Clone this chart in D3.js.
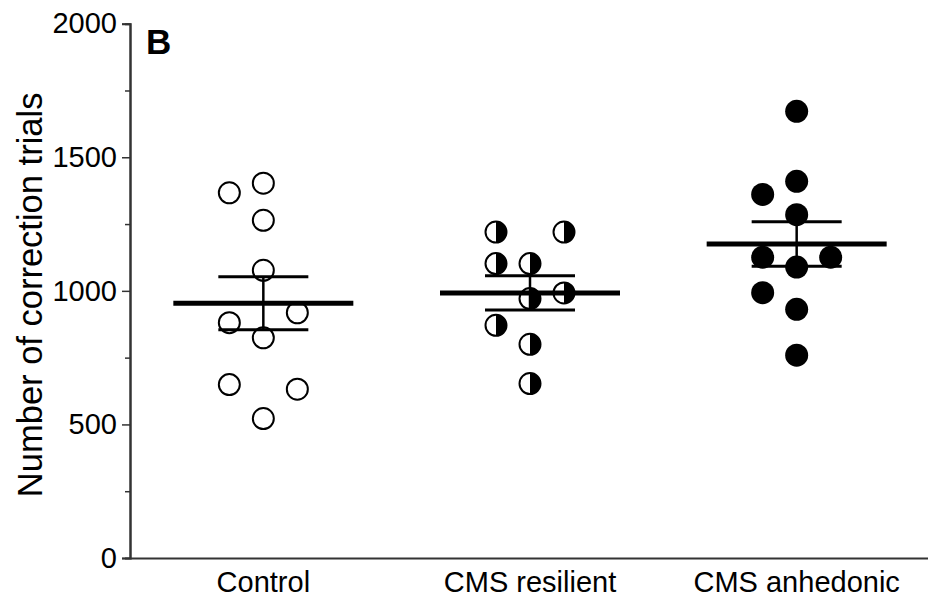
<!DOCTYPE html>
<html>
<head>
<meta charset="utf-8">
<script src="https://cdn.jsdelivr.net/npm/d3@7"></script>
<style>
  html, body { margin: 0; padding: 0; background: #fff; }
  svg { display: block; font-family: "Liberation Sans", Arial, sans-serif; }
</style>
</head>
<body>
<svg id="chart" width="928" height="599"></svg>
<script>
// ---- data ----
const categories = ["Control", "CMS resilient", "CMS anhedonic"];
const controlValues   = [1403, 1367, 1264, 1077, 918, 881, 824, 649, 632, 522];
const controlSlots    = [0, -1, 0, 0, 1, -1, 0, -1, 1, 0];
const resilientValues = [1220, 1220, 1102, 1102, 992, 971, 871, 800, 653];
const resilientSlots  = [-1, 1, -1, 0, 1, 0, -1, 0, 0];
const anhedonicValues = [1672, 1410, 1361, 1285, 1126, 1126, 1089, 993, 931, 759];
const anhedonicSlots  = [0, 0, -1, 0, -1, 1, 0, -1, 0, 0];
const markerTypes = ["open", "half", "filled"];
const yMajorTicks = [0, 500, 1000, 1500, 2000];
const yMinorTicks = [250, 750, 1250, 1750];
const yTitle = "Number of correction trials";
const panelLabel = "B";

const groups = [
  { name: categories[0], values: controlValues,   slots: controlSlots,   type: markerTypes[0] },
  { name: categories[1], values: resilientValues, slots: resilientSlots, type: markerTypes[1] },
  { name: categories[2], values: anhedonicValues, slots: anhedonicSlots, type: markerTypes[2] }
];

// ---- layout ----
const svg = d3.select("#chart");
const mLeft = 130, mRight = 930, mTop = 23.7, mBottom = 558;
const axisColor = "#333";

const x = d3.scaleBand().domain(categories).range([mLeft, mRight]);
const y = d3.scaleLinear().domain([0, 2000]).range([mBottom, mTop]);
const slotStep = 34;
const r = 10.5;

// axes
const yAxis = svg.append("g").attr("transform", `translate(${mLeft},0)`)
  .call(d3.axisLeft(y).tickValues(yMajorTicks).tickSize(8).tickPadding(5).tickFormat(d3.format("d")));
const yAxisMinor = svg.append("g").attr("transform", `translate(${mLeft},0)`)
  .call(d3.axisLeft(y).tickValues(yMinorTicks).tickSize(5).tickFormat(""));
[yAxis, yAxisMinor].forEach(g => {
  g.selectAll("path.domain").attr("stroke", axisColor).attr("stroke-width", 2);
  g.selectAll(".tick line").attr("stroke", axisColor).attr("stroke-width", 1.5);
});
yAxis.selectAll(".tick text").attr("font-size", 29).attr("fill", "#000")
  .attr("font-family", "Liberation Sans, Arial, sans-serif");

const xAxis = svg.append("g").attr("transform", `translate(0,${mBottom})`)
  .call(d3.axisBottom(x).tickSize(0).tickPadding(13));
xAxis.selectAll("path.domain").attr("stroke", axisColor).attr("stroke-width", 2);
xAxis.selectAll(".tick text").attr("font-size", 29).attr("fill", "#000")
  .attr("dy", "0.71em")
  .attr("font-family", "Liberation Sans, Arial, sans-serif");

// axis title
svg.append("text")
  .attr("transform", `translate(42,${(mTop + mBottom) / 2 + 4}) rotate(-90)`)
  .attr("text-anchor", "middle")
  .attr("font-size", 34.5)
  .attr("fill", "#000")
  .text(yTitle);

// panel label
svg.append("text")
  .attr("x", 146).attr("y", 54)
  .attr("font-size", 35).attr("font-weight", "bold")
  .attr("fill", "#000")
  .text(panelLabel);

// points
const halfArc = d3.arc().innerRadius(0).outerRadius(r).startAngle(0).endAngle(Math.PI);
groups.forEach(g => {
  const cx = x(g.name) + x.bandwidth() / 2;
  g.values.forEach((v, i) => {
    const px = cx + g.slots[i] * slotStep;
    const py = y(v);
    const pt = svg.append("g").attr("transform", `translate(${px},${py})`);
    if (g.type === "filled") {
      pt.append("circle").attr("r", r + 1).attr("fill", "#000");
    } else {
      pt.append("circle").attr("r", r).attr("fill", "#fff")
        .attr("stroke", "#000").attr("stroke-width", 2);
      if (g.type === "half") {
        pt.append("path").attr("d", halfArc()).attr("fill", "#000");
      }
    }
  });
});

// mean and SEM
groups.forEach(g => {
  const cx = x(g.name) + x.bandwidth() / 2;
  const m = d3.mean(g.values);
  const sem = d3.deviation(g.values) / Math.sqrt(g.values.length);
  svg.append("line")
    .attr("x1", cx).attr("x2", cx).attr("y1", y(m + sem)).attr("y2", y(m - sem))
    .attr("stroke", "#000").attr("stroke-width", 2.5);
  [m + sem, m - sem].forEach(v => {
    svg.append("line")
      .attr("x1", cx - 45).attr("x2", cx + 45).attr("y1", y(v)).attr("y2", y(v))
      .attr("stroke", "#000").attr("stroke-width", 3);
  });
  svg.append("line")
    .attr("x1", cx - 90).attr("x2", cx + 90).attr("y1", y(m)).attr("y2", y(m))
    .attr("stroke", "#000").attr("stroke-width", 5);
});
</script>
</body>
</html>
